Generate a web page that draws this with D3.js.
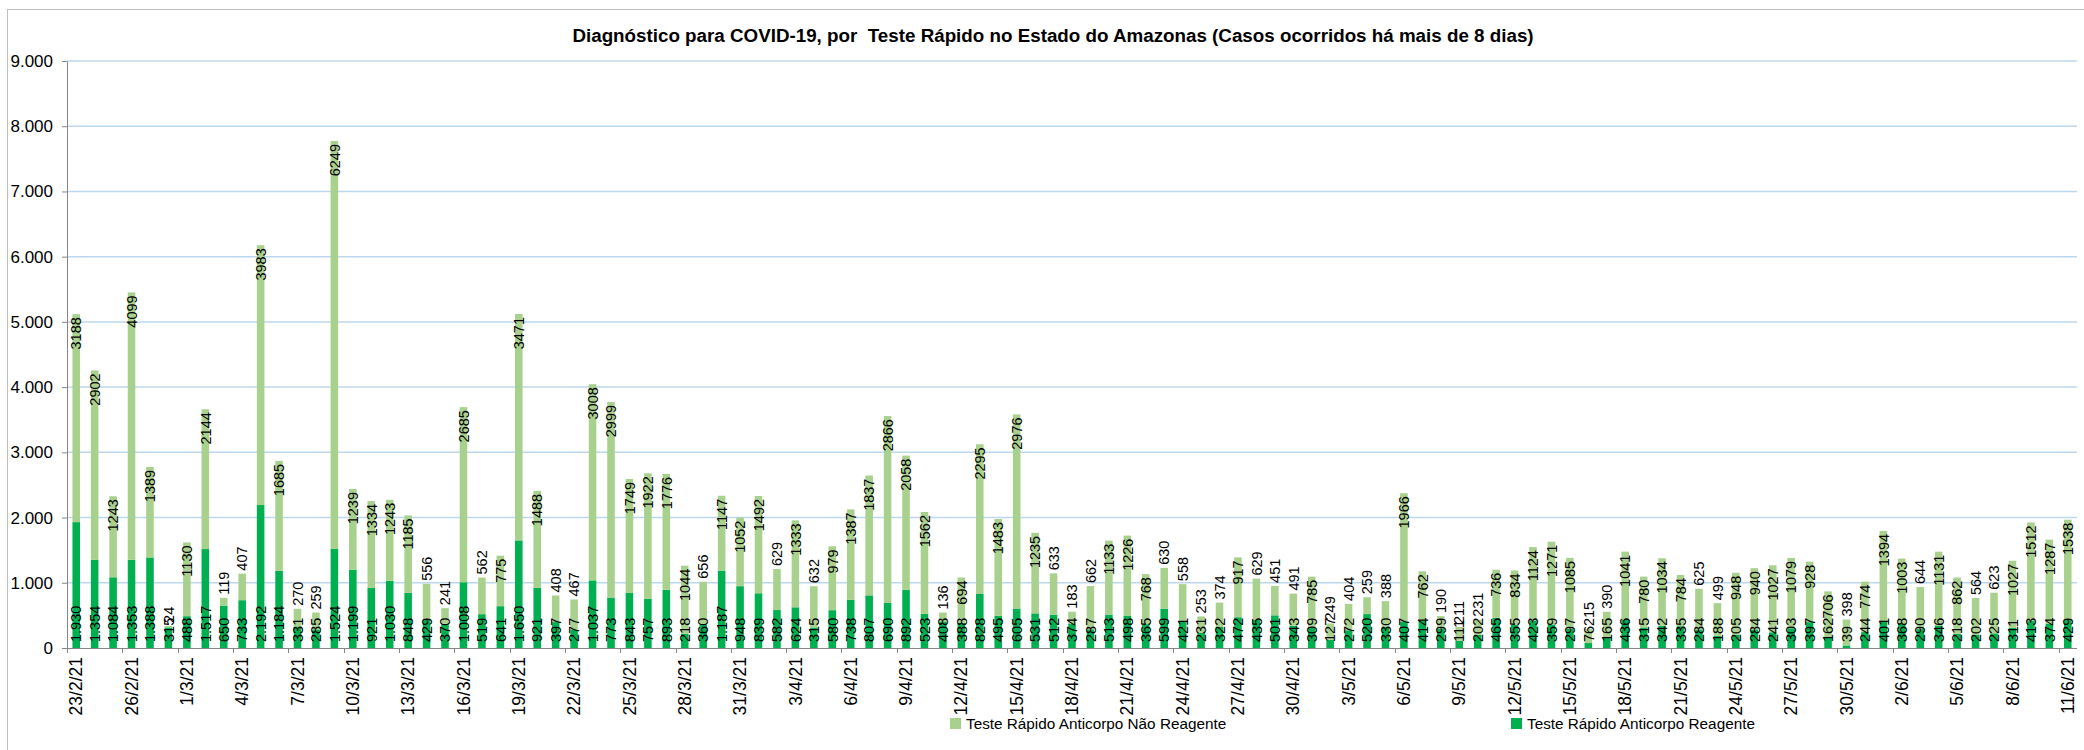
<!DOCTYPE html>
<html><head><meta charset="utf-8">
<script src="https://cdn.jsdelivr.net/npm/d3@7/dist/d3.min.js"></script>
<style>body{margin:0;background:#fff}svg{display:block}</style>
</head><body>
<svg id="c" width="2084" height="750"></svg>
<script>
const dates = [
"23/2/21","24/2/21","25/2/21","26/2/21","27/2/21","28/2/21",
"1/3/21","2/3/21","3/3/21","4/3/21","5/3/21","6/3/21","7/3/21","8/3/21","9/3/21","10/3/21",
"11/3/21","12/3/21","13/3/21","14/3/21","15/3/21","16/3/21","17/3/21","18/3/21","19/3/21","20/3/21",
"21/3/21","22/3/21","23/3/21","24/3/21","25/3/21","26/3/21","27/3/21","28/3/21","29/3/21","30/3/21","31/3/21",
"1/4/21","2/4/21","3/4/21","4/4/21","5/4/21","6/4/21","7/4/21","8/4/21","9/4/21","10/4/21",
"11/4/21","12/4/21","13/4/21","14/4/21","15/4/21","16/4/21","17/4/21","18/4/21","19/4/21","20/4/21",
"21/4/21","22/4/21","23/4/21","24/4/21","25/4/21","26/4/21","27/4/21","28/4/21","29/4/21","30/4/21",
"1/5/21","2/5/21","3/5/21","4/5/21","5/5/21","6/5/21","7/5/21","8/5/21","9/5/21","10/5/21",
"11/5/21","12/5/21","13/5/21","14/5/21","15/5/21","16/5/21","17/5/21","18/5/21","19/5/21","20/5/21",
"21/5/21","22/5/21","23/5/21","24/5/21","25/5/21","26/5/21","27/5/21","28/5/21","29/5/21","30/5/21","31/5/21",
"1/6/21","2/6/21","3/6/21","4/6/21","5/6/21","6/6/21","7/6/21","8/6/21","9/6/21","10/6/21","11/6/21"];

const reagente = [
1930,1354,1084,1353,1388,315,
488,1517,650,733,2192,1184,331,285,1524,1199,921,1030,848,429,370,1008,519,641,1650,921,397,277,1037,773,843,757,893,218,360,1187,948,
839,582,624,315,580,738,807,690,892,523,408,388,828,495,605,531,512,374,287,513,498,365,599,421,231,322,472,435,501,343,
309,127,272,520,330,407,414,299,111,202,465,355,423,359,297,76,165,436,315,342,335,284,188,205,284,241,303,397,162,39,244,
401,368,290,346,218,202,225,311,413,374,429];

const naoReagente = [
3188,2902,1243,4099,1389,24,
1130,2144,119,407,3983,1685,270,259,6249,1239,1334,1243,1185,556,241,2685,562,775,3471,1488,408,467,3008,2999,1749,1922,1776,1044,656,1147,1052,
1492,629,1333,632,979,1387,1837,2866,2058,1562,136,694,2295,1483,2976,1235,633,183,662,1133,1226,768,630,558,253,374,917,629,451,491,
785,249,404,259,388,1966,762,190,211,231,736,834,1124,1271,1085,215,390,1041,780,1034,784,625,499,948,940,1027,1079,928,706,398,774,
1394,1003,644,1131,862,564,623,1027,1512,1287,1538];

const yTicks = [0,1000,2000,3000,4000,5000,6000,7000,8000,9000];
const seriesNames = ["Teste Rápido Anticorpo Não Reagente","Teste Rápido Anticorpo Reagente"];
const titleText = "Diagnóstico para COVID-19, por  Teste Rápido no Estado do Amazonas (Casos ocorridos há mais de 8 dias)";

const C_NR = "#a9d18e", C_R = "#00b050";
const FONT = "Liberation Sans, Arial, sans-serif";
const loc = d3.formatLocale({decimal:",", thousands:".", grouping:[3], currency:["R$",""]});
const fmt = loc.format(",");

const W = 2084, H = 750;
const L = 67, R = 2077, T = 61, B = 648;
const svg = d3.select("#c");

svg.append("rect").attr("x",7.5).attr("y",9.5).attr("width",W).attr("height",H)
  .attr("fill","#fff").attr("stroke","#bfbfbf").attr("stroke-width",1);

const x = d3.scaleBand().domain(dates).range([L,R]).paddingInner(0.59).paddingOuter(0.295);
const y = d3.scaleLinear().domain([0,9000]).range([B,T]);

// gridlines
svg.append("g").selectAll("line").data(yTicks.filter(d=>d>0)).join("line")
  .attr("x1",L).attr("x2",R).attr("y1",d=>y(d)).attr("y2",d=>y(d))
  .attr("stroke","#bdd7ee").attr("stroke-width",1.5);

// y axis
const yAx = svg.append("g").attr("transform",`translate(${L},0)`)
  .call(d3.axisLeft(y).tickValues(yTicks).tickSize(5).tickSizeOuter(0).tickPadding(9).tickFormat(fmt));
yAx.select(".domain").attr("stroke","#868686");
yAx.selectAll(".tick line").attr("stroke","#868686");
yAx.selectAll("text").attr("font-family",FONT).attr("font-size",17).attr("fill","#000");

// data
const data = dates.map((d,i)=>({d, r:reagente[i], nr:naoReagente[i]}));
const stack = d3.stack().keys(["r","nr"])(data);

const cx = d => x(d) + x.bandwidth()/2;

svg.append("g").selectAll("rect").data(stack[0]).join("rect")
  .attr("x",p=>x(p.data.d)).attr("width",x.bandwidth())
  .attr("y",p=>y(p[1])).attr("height",p=>y(p[0])-y(p[1])).attr("fill",C_R);
svg.append("g").selectAll("rect").data(stack[1]).join("rect")
  .attr("x",p=>x(p.data.d)).attr("width",x.bandwidth())
  .attr("y",p=>y(p[1])).attr("height",p=>y(p[0])-y(p[1])).attr("fill",C_NR);

// x axis
const step = x.step();
const tickIdx = dates.map((d,i)=>i).filter(i=>i%3===0);
svg.append("line").attr("x1",L).attr("x2",R).attr("y1",B+0.5).attr("y2",B+0.5).attr("stroke","#868686");
svg.append("g").selectAll("line").data(tickIdx).join("line")
  .attr("x1",i=>Math.round(cx(dates[i]) - step/2)+0.5).attr("x2",i=>Math.round(cx(dates[i]) - step/2)+0.5)
  .attr("y1",B).attr("y2",B+5).attr("stroke","#868686");
svg.append("g").selectAll("text").data(tickIdx).join("text")
  .attr("transform",i=>`translate(${cx(dates[i])},${B+9}) rotate(-90)`)
  .attr("text-anchor","end").attr("dy","0.35em")
  .attr("font-family",FONT).attr("font-size",17.5).attr("fill","#000")
  .text(i=>dates[i]);

// labels reagente (inside base)
svg.append("g").selectAll("text").data(stack[0]).join("text")
  .attr("transform",p=>`translate(${cx(p.data.d)},${y(p[0])-6}) rotate(-90)`)
  .attr("text-anchor","start").attr("dy","0.36em")
  .attr("font-family",FONT).attr("font-size",14.5).attr("fill","#000")
  .text(p=>fmt(p.data.r));

// labels nao reagente (inside end if fits, else above)
const nrG = svg.append("g");
stack[1].forEach(p=>{
  const t = nrG.append("text").attr("dy","0.36em")
    .attr("font-family",FONT).attr("font-size",14.5).attr("fill","#000")
    .text(String(p.data.nr));
  const len = t.node().getComputedTextLength();
  const top = y(p[1]), h = y(p[0]) - y(p[1]);
  if (h >= len + 20) {
    t.attr("transform",`translate(${cx(p.data.d)},${top+3}) rotate(-90)`).attr("text-anchor","end");
  } else {
    t.attr("transform",`translate(${cx(p.data.d)},${top-3}) rotate(-90)`).attr("text-anchor","start");
  }
});

// title
svg.append("text").attr("x",1053).attr("y",42).attr("text-anchor","middle")
  .attr("font-family","Liberation Sans").attr("font-weight","bold").attr("font-size",18.8)
  .attr("fill","#000").style("white-space","pre").text(titleText);

// legend
const legX = [950, 1511];
const lg = svg.append("g").selectAll("g").data(seriesNames).join("g")
  .attr("transform",(d,i)=>`translate(${legX[i]},724)`);
lg.append("rect").attr("x",0).attr("y",-6).attr("width",11).attr("height",11)
  .attr("fill",(d,i)=>i===0?C_NR:C_R);
lg.append("text").attr("x",16).attr("dy","0.35em")
  .attr("font-family",FONT).attr("font-size",15.3).attr("fill","#000").text(d=>d);
</script>
</body></html>
